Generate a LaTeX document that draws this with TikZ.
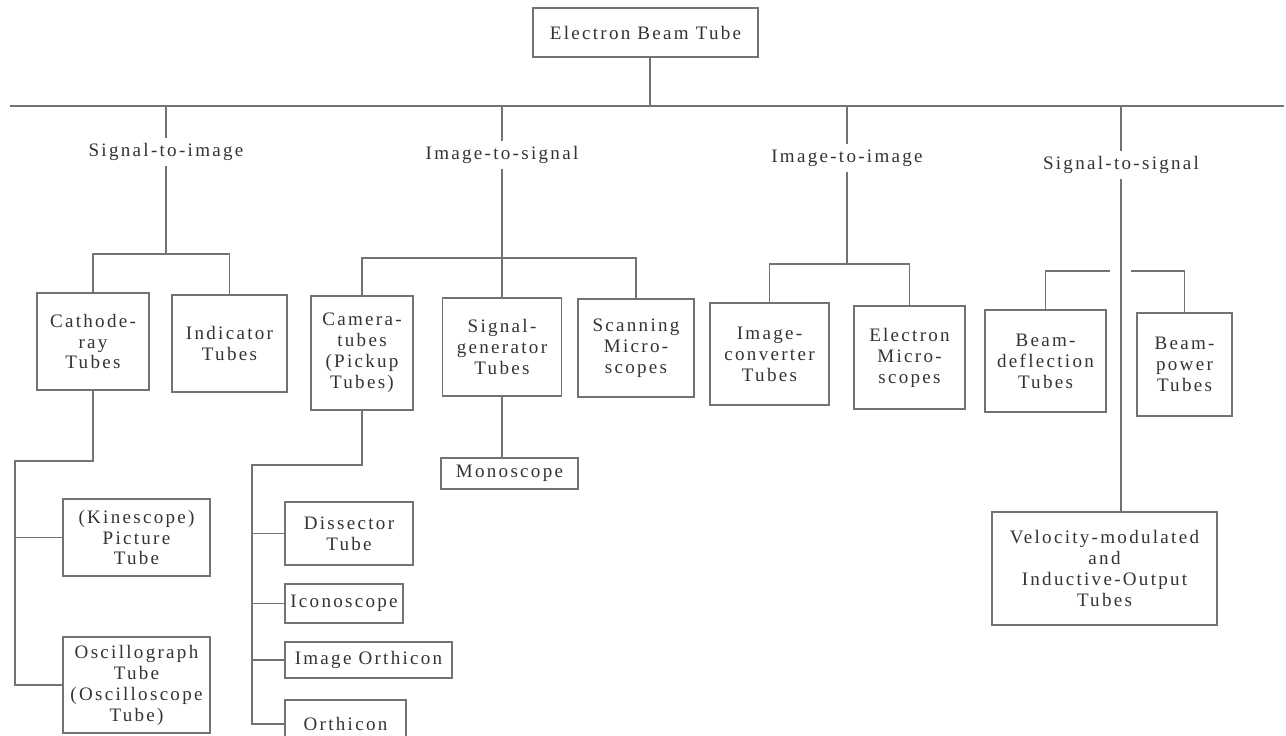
\documentclass[tikz,border=0pt]{standalone}
\usepackage{fontspec}
\setmainfont{Liberation Serif}[LetterSpace=12]
\newlength\pxu
\setlength\pxu{0.42pt}
\newcommand\tubefont{\fontsize{8}{8.8}\selectfont}
\begin{document}
\begin{tikzpicture}[
    x=0.42pt, y=-0.42pt,
    box/.style={rectangle, draw=black!55, line width=0.6pt, inner sep=0pt, align=center, text=black!80, font=\tubefont},
    cls/.style={inner sep=2pt, align=center, text=black!80, font=\tubefont},
    wire/.style={draw=black!55, line width=0.6pt}
  ]
    \useasboundingbox (0,0) rectangle (1286,736);
    \node[box, minimum width=225*\pxu, minimum height=49*\pxu] (ebt) at (645.5,32.5) {Electron Beam Tube};
    \coordinate (mainL) at (10,106);
    \coordinate (mainR) at (1284,106);
    \coordinate (trunk) at (650,106);
    \draw[wire] (mainL) -- (mainR);
    \draw[wire] (trunk |- ebt.south) -- (trunk);
    \node[cls] (sti) at (166,152) {Signal-to-image};
    \node[cls] (its) at (502,155) {Image-to-signal};
    \node[cls] (iti) at (847,158) {Image-to-image};
    \node[cls] (sts) at (1121,165) {Signal-to-signal};
    \foreach \n in {sti,its,iti,sts}
      \draw[wire] (\n.north |- mainL) -- (\n.north);
    \node[box, minimum width=112*\pxu, minimum height=97*\pxu] (crt) at (93,341.5) {Cathode-\\ray\\Tubes};
    \node[box, minimum width=115*\pxu, minimum height=97*\pxu] (ind) at (229.5,343.5) {Indicator\\Tubes};
    \node[box, minimum width=102*\pxu, minimum height=114*\pxu] (cam) at (362,353) {Camera-\\tubes\\(Pickup\\Tubes)};
    \node[box, minimum width=119*\pxu, minimum height=98*\pxu] (sig) at (502,347) {Signal-\\generator\\Tubes};
    \node[box, minimum width=116*\pxu, minimum height=98*\pxu] (scan) at (636,348) {Scanning\\Micro-\\scopes};
    \node[box, minimum width=119*\pxu, minimum height=102*\pxu] (ic) at (769.5,354) {Image-\\converter\\Tubes};
    \node[box, minimum width=111*\pxu, minimum height=103*\pxu] (em) at (909.5,357.5) {Electron\\Micro-\\scopes};
    \node[box, minimum width=121*\pxu, minimum height=102*\pxu] (bd) at (1045.5,361) {Beam-\\deflection\\Tubes};
    \node[box, minimum width=95*\pxu, minimum height=103*\pxu] (bp) at (1184.5,364.5) {Beam-\\power\\Tubes};
    \node[box, minimum width=137*\pxu, minimum height=31*\pxu] (mono) at (509.5,473.5) {Monoscope};
    \node[box, minimum width=225*\pxu, minimum height=113*\pxu] (vel) at (1104.5,568.5) {Velocity-modulated\\and\\Inductive-Output\\Tubes};
    \node[box, minimum width=147*\pxu, minimum height=77*\pxu] (kin) at (136.5,537.5) {(Kinescope)\\Picture\\Tube};
    \node[box, minimum width=147*\pxu, minimum height=96*\pxu] (osc) at (136.5,685) {Oscillograph\\Tube\\(Oscilloscope\\Tube)};
    \node[box, minimum width=128*\pxu, minimum height=63*\pxu] (dis) at (349,533.5) {Dissector\\Tube};
    \node[box, minimum width=118*\pxu, minimum height=39*\pxu] (ico) at (344,603.5) {Iconoscope};
    \node[box, minimum width=167*\pxu, minimum height=36*\pxu] (imo) at (368.5,660) {Image Orthicon};
    \node[box, minimum width=121*\pxu, minimum height=48*\pxu] (orth) at (345.5,724) {Orthicon};
    \coordinate (jsti) at (166,254);
    \coordinate (jits) at (502,258);
    \coordinate (jiti) at (847,264);
    \coordinate (gapL) at (1110,271);
    \coordinate (gapR) at (1131,271);
    \draw[wire] (sti.south) -- (jsti);
    \draw[wire] (crt.north) |- (jsti) -| (ind.north);
    \draw[wire] (its.south) -- (jits) -- (sig.north);
    \draw[wire] (cam.north) |- (jits) -| (scan.north);
    \draw[wire] (iti.south) -- (jiti);
    \draw[wire] (ic.north) |- (jiti) -| (em.north);
    \draw[wire] (sts.south) -- (sts.south |- vel.north);
    \draw[wire] (bd.north) |- (gapL);
    \draw[wire] (bp.north) |- (gapR);
    \draw[wire] (sig.south) -- (sig.south |- mono.north);
    \coordinate (crtrail) at (15,461);
    \draw[wire] (crt.south) |- (crtrail) |- (osc.west);
    \draw[wire] (crtrail |- kin.west) -- (kin.west);
    \coordinate (camrail) at (252,465);
    \draw[wire] (cam.south) |- (camrail) |- (orth.west);
    \foreach \n in {dis,ico,imo}
      \draw[wire] (camrail |- \n.west) -- (\n.west);
  \end{tikzpicture}
\end{document}
